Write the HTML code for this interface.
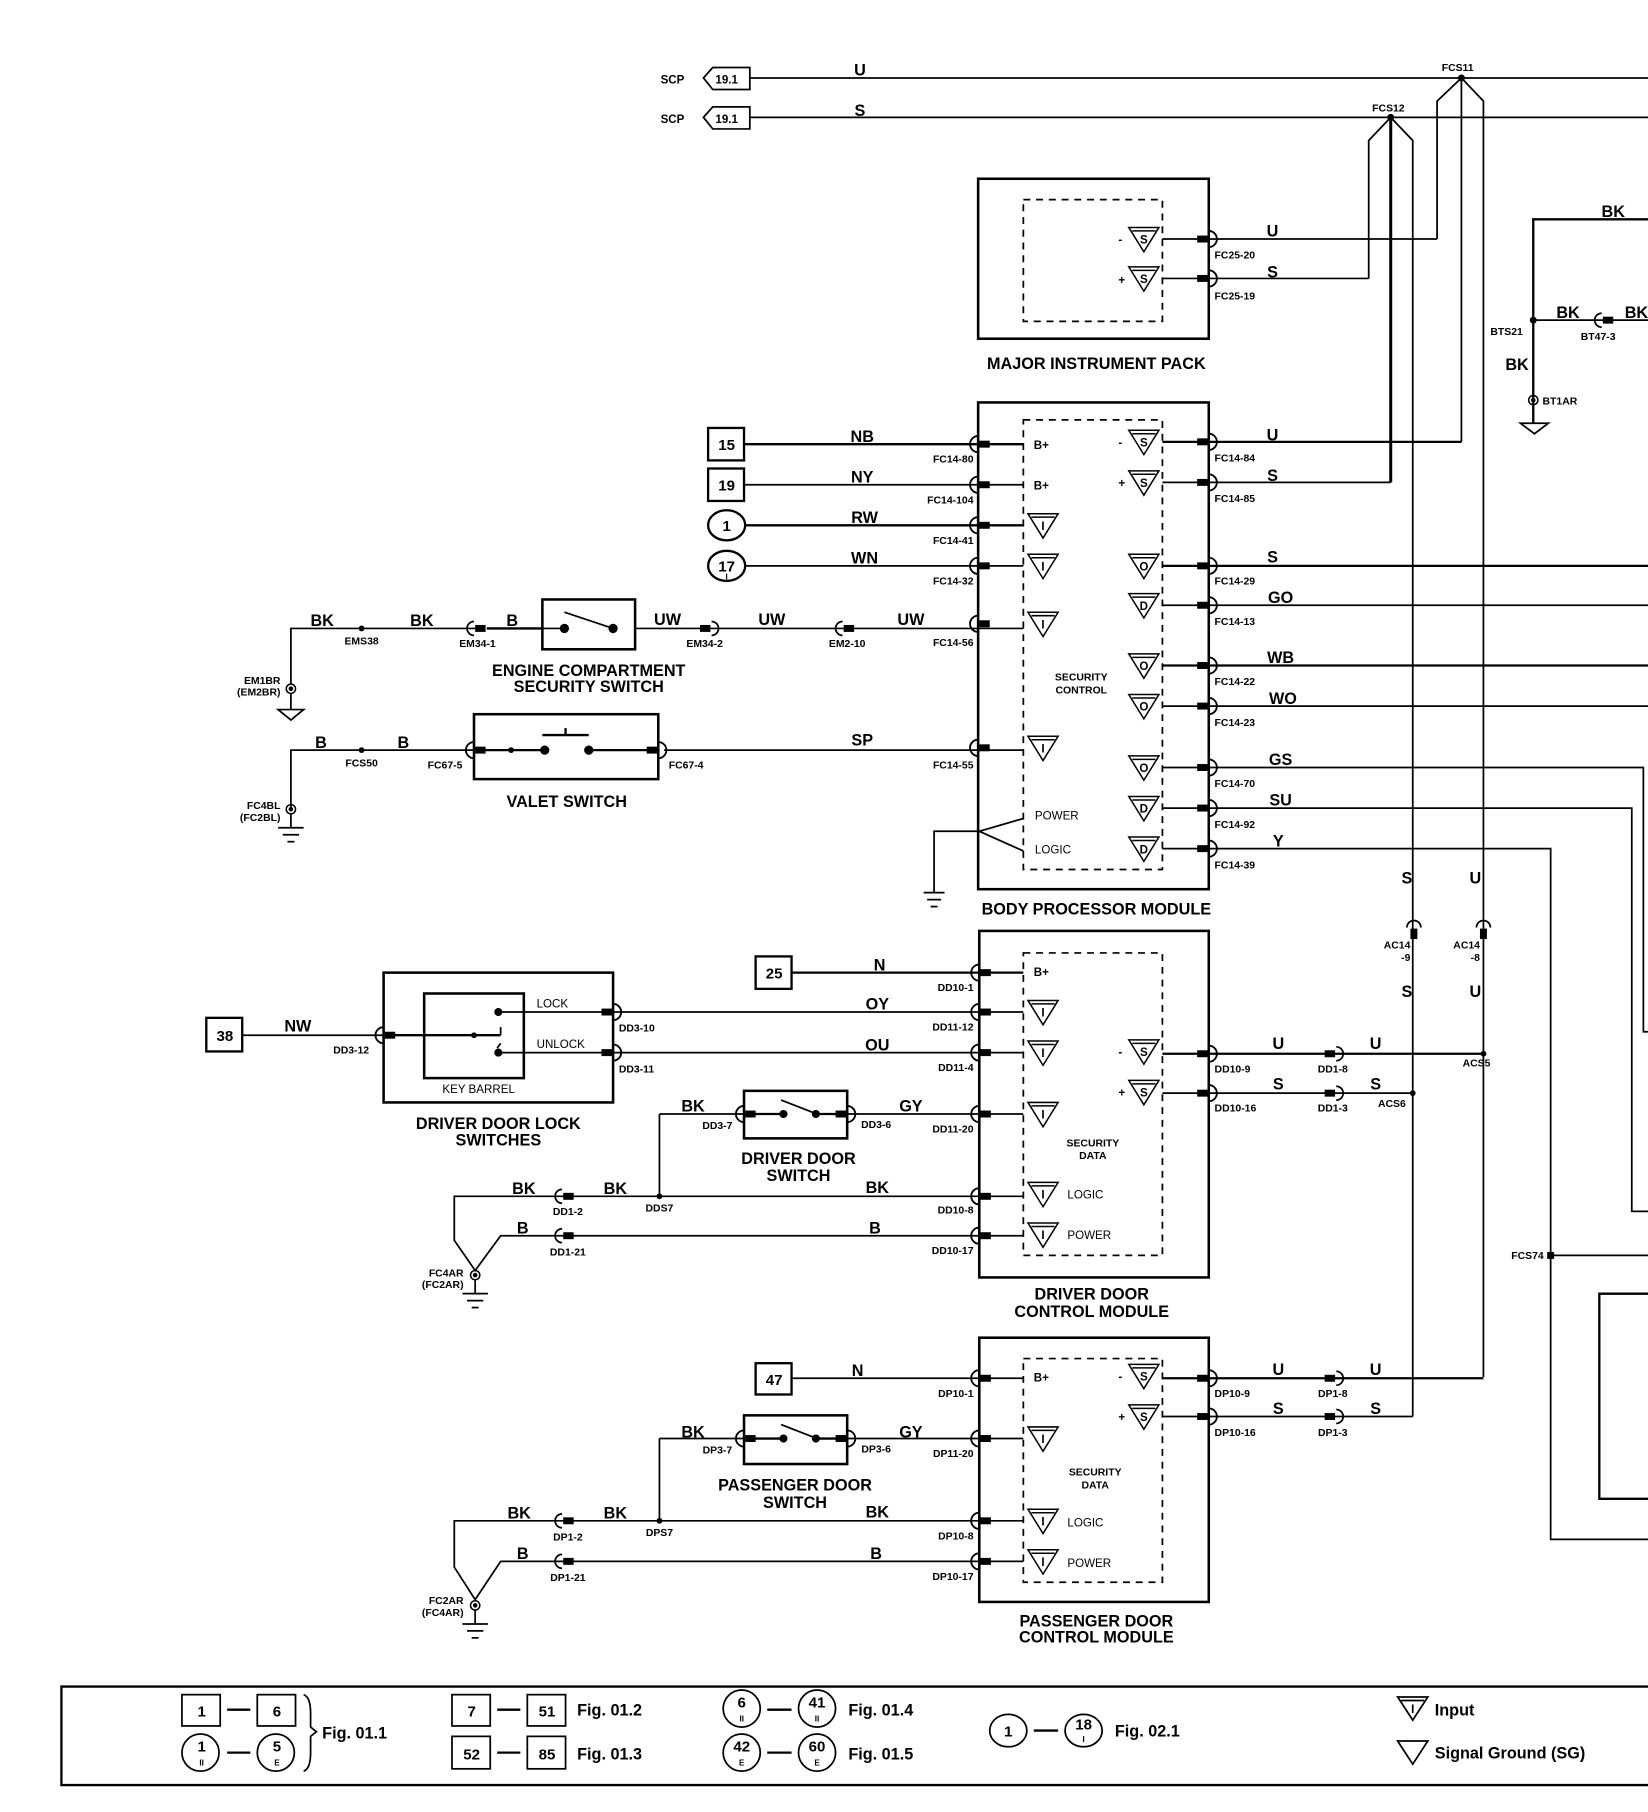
<!DOCTYPE html>
<html><head><meta charset="utf-8"><style>
html,body{margin:0;padding:0;background:#fff;}
svg{display:block;}
text{font-family:"Liberation Sans",Arial,sans-serif;font-weight:bold;fill:#000;}
.p{font-size:9px;}
.w{font-size:14px;font-weight:normal;}
.t{font-size:14px;text-anchor:middle;}
.s{font-size:10px;}
.c{text-anchor:middle;}
.r{text-anchor:end;}
</style></head><body>
<svg width="1648" height="1812" viewBox="0 0 1422 1563" xmlns="http://www.w3.org/2000/svg">
<defs>
<g id="cl"><path d="M0,-7 a7,7 0 0 0 0,14" fill="none" stroke="#000" stroke-width="1.6"/><rect x="1" y="-3" width="9" height="6" fill="#000"/></g>
<g id="cr"><path d="M0,-7 a7,7 0 0 1 0,14" fill="none" stroke="#000" stroke-width="1.6"/><rect x="-10" y="-3" width="9" height="6" fill="#000"/></g>
<g id="ci"><path d="M0,-6 a6,6 0 0 1 0,12" fill="none" stroke="#000" stroke-width="1.5"/><rect x="-10" y="-3" width="9" height="6" fill="#000"/></g>
<g id="cj"><path d="M0,-6 a6,6 0 0 0 0,12" fill="none" stroke="#000" stroke-width="1.5"/><rect x="1" y="-3" width="9" height="6" fill="#000"/></g>
<path id="tri" d="M-13,-10 L13,-10 L0,11 Z M-10,-7 L10,-7" fill="#fff" stroke="#000" stroke-width="1.3"/>
<g id="eg"><circle cx="0" cy="0" r="4" fill="none" stroke="#000" stroke-width="1.3"/><circle cx="0" cy="0" r="2" fill="#000"/><line x1="0" y1="4" x2="0" y2="16" stroke="#000" stroke-width="1.5"/><line x1="-11" y1="16" x2="11" y2="16" stroke="#000" stroke-width="1.5"/><line x1="-7" y1="22" x2="7" y2="22" stroke="#000" stroke-width="1.5"/><line x1="-3" y1="28" x2="3" y2="28" stroke="#000" stroke-width="1.5"/></g>
</defs>
<rect width="1422" height="1563" fill="#fff"/>
<g fill="none" stroke="#000" stroke-width="1.5">
<line x1="647" y1="67" x2="1422" y2="67"/>
<line x1="647" y1="101" x2="1422" y2="101"/>
<path d="M647,58 L615,58 L607,67 L615,77 L647,77 Z"/>
<path d="M647,92 L615,92 L607,101 L615,111 L647,111 Z"/>
<path d="M1240,206 L1240,87 L1261,67 L1280,87 L1280,1188"/>
<line x1="1261" y1="67" x2="1261" y2="381"/>
<path d="M1181,240 L1181,121 L1200,101 L1219,121 L1219,1222"/>
<line x1="1200" y1="101" x2="1200" y2="416" stroke-width="2.6"/>
<rect x="844" y="154" width="199" height="138" stroke-width="2.2"/>
<rect x="883" y="172" width="120" height="105" stroke-dasharray="6,5"/>
<line x1="1003" y1="206" x2="1240" y2="206"/>
<line x1="1003" y1="240" x2="1181" y2="240"/>
<path d="M1422,189 L1323,189 L1323,365" stroke-width="2"/>
<line x1="1323" y1="276" x2="1422" y2="276"/>
<path d="M1312,365 L1336,365 L1324,374 Z"/>
<rect x="844" y="347" width="199" height="420" stroke-width="2.2"/>
<rect x="883" y="362" width="120" height="388" stroke-dasharray="6,5"/>
<line x1="642" y1="383" x2="883" y2="383" stroke-width="2"/>
<line x1="642" y1="418" x2="883" y2="418"/>
<line x1="643" y1="453" x2="883" y2="453" stroke-width="2"/>
<line x1="643" y1="488" x2="883" y2="488"/>
<line x1="1003" y1="381" x2="1261" y2="381" stroke-width="2"/>
<line x1="1003" y1="416" x2="1200" y2="416"/>
<line x1="1003" y1="488" x2="1422" y2="488" stroke-width="2"/>
<line x1="1003" y1="522" x2="1422" y2="522"/>
<line x1="1003" y1="574" x2="1422" y2="574" stroke-width="2"/>
<line x1="1003" y1="609" x2="1422" y2="609"/>
<path d="M1003,662 L1418,662 L1418,890 L1422,890"/>
<path d="M1003,697 L1408,697 L1408,1045 L1422,1045"/>
<path d="M1003,732 L1338,732 L1338,1328 L1422,1328"/>
<line x1="1338" y1="1083" x2="1422" y2="1083"/>
<path d="M1422,1116 L1380,1116 L1380,1293 L1422,1293" stroke-width="2"/>
<path d="M883,706 L845,717 L883,734"/>
<path d="M845,717 L806,717 L806,770"/>
<line x1="797" y1="770" x2="815" y2="770"/><line x1="800" y1="776" x2="812" y2="776"/><line x1="803" y1="782" x2="809" y2="782"/>
<path d="M251,590 L251,542 L410,542" />
<line x1="420" y1="542" x2="468" y2="542" stroke-width="2"/>
<rect x="468" y="517" width="80" height="43" stroke-width="2.2"/>
<line x1="548" y1="542" x2="883" y2="542"/>
<line x1="486" y1="542" x2="468" y2="542"/>
<line x1="487" y1="528" x2="529" y2="542"/>
<path d="M251,700 L251,647 L409,647"/>
<rect x="409" y="616" width="159" height="56" stroke-width="2.2"/>
<line x1="415" y1="647" x2="470" y2="647" stroke-width="2"/>
<line x1="508" y1="647" x2="562" y2="647" stroke-width="2"/>
<line x1="573" y1="647" x2="883" y2="647"/>
<line x1="468" y1="634" x2="508" y2="634" stroke-width="2"/>
<line x1="488" y1="628" x2="488" y2="634" stroke-width="2"/>
<rect x="331" y="839" width="198" height="112" stroke-width="2.2"/>
<rect x="366" y="857" width="86" height="73" stroke-width="2.2"/>
<rect x="178" y="878" width="31" height="29" stroke-width="2"/>
<line x1="209" y1="893" x2="330" y2="893"/>
<line x1="334" y1="893" x2="432" y2="893" stroke-width="2"/>
<line x1="432" y1="873" x2="883" y2="873"/>
<line x1="432" y1="908" x2="883" y2="908"/>
<line x1="432" y1="886" x2="432" y2="893"/>
<line x1="432" y1="900" x2="429" y2="904"/>
<rect x="845" y="803" width="198" height="299" stroke-width="2.2"/>
<rect x="883" y="822" width="120" height="261" stroke-dasharray="6,5"/>
<rect x="652" y="825" width="31" height="28" stroke-width="2"/>
<line x1="683" y1="839" x2="883" y2="839" stroke-width="2"/>
<line x1="1003" y1="909" x2="1280" y2="909" stroke-width="2"/>
<line x1="1003" y1="943" x2="1219" y2="943"/>
<rect x="642" y="941" width="89" height="41" stroke-width="2.2"/>
<line x1="569" y1="961" x2="642" y2="961"/>
<line x1="731" y1="961" x2="883" y2="961"/>
<line x1="648" y1="961" x2="676" y2="961" stroke-width="2"/>
<line x1="704" y1="961" x2="727" y2="961" stroke-width="2"/>
<line x1="674" y1="949" x2="705" y2="961"/>
<line x1="569" y1="961" x2="569" y2="1032"/>
<path d="M883,1032 L392,1032 L392,1070 L410,1096 L432,1066 L883,1066"/>
<rect x="845" y="1154" width="198" height="228" stroke-width="2.2"/>
<rect x="883" y="1172" width="120" height="193" stroke-dasharray="6,5"/>
<rect x="652" y="1176" width="31" height="27" stroke-width="2"/>
<line x1="683" y1="1189" x2="883" y2="1189"/>
<line x1="1003" y1="1189" x2="1280" y2="1189" stroke-width="2"/>
<line x1="1003" y1="1222" x2="1219" y2="1222"/>
<rect x="642" y="1221" width="89" height="42" stroke-width="2.2"/>
<line x1="569" y1="1241" x2="642" y2="1241"/>
<line x1="731" y1="1241" x2="883" y2="1241"/>
<line x1="648" y1="1241" x2="676" y2="1241" stroke-width="2"/>
<line x1="704" y1="1241" x2="727" y2="1241" stroke-width="2"/>
<line x1="674" y1="1229" x2="705" y2="1241"/>
<line x1="569" y1="1241" x2="569" y2="1312"/>
<path d="M883,1312 L392,1312 L392,1352 L410,1380 L432,1347 L883,1347"/>
<rect x="611" y="369" width="31" height="28" stroke-width="2"/>
<rect x="611" y="404" width="31" height="28" stroke-width="2"/>
<ellipse cx="627" cy="453" rx="16" ry="13" stroke-width="2"/>
<ellipse cx="627" cy="488" rx="16" ry="13" stroke-width="2"/>
<path d="M1422,1455 L53,1455 L53,1540 L1422,1540" stroke-width="2"/>
<rect x="157" y="1462" width="33" height="27"/><rect x="222" y="1462" width="33" height="27"/>
<ellipse cx="173" cy="1512" rx="16" ry="16"/><ellipse cx="238" cy="1512" rx="16" ry="16"/>
<path d="M262,1462 Q268,1464 268,1478 L268,1490 L273,1494 L268,1498 L268,1512 Q268,1526 262,1528"/>
<rect x="390" y="1462" width="33" height="27"/><rect x="455" y="1462" width="33" height="27"/>
<rect x="390" y="1498" width="33" height="28"/><rect x="455" y="1498" width="33" height="28"/>
<ellipse cx="640" cy="1474" rx="16" ry="16"/><ellipse cx="705" cy="1474" rx="16" ry="16"/>
<ellipse cx="640" cy="1512" rx="16" ry="16"/><ellipse cx="705" cy="1512" rx="16" ry="16"/>
<ellipse cx="870" cy="1493" rx="16" ry="14"/><ellipse cx="935" cy="1493" rx="16" ry="14"/>
<line x1="196" y1="1475" x2="216" y2="1475" stroke-width="2"/><line x1="196" y1="1512" x2="216" y2="1512" stroke-width="2"/>
<line x1="429" y1="1475" x2="449" y2="1475" stroke-width="2"/><line x1="429" y1="1512" x2="449" y2="1512" stroke-width="2"/>
<line x1="662" y1="1475" x2="683" y2="1475" stroke-width="2"/><line x1="662" y1="1512" x2="683" y2="1512" stroke-width="2"/>
<line x1="892" y1="1493" x2="913" y2="1493" stroke-width="2"/>
<path d="M1206,1464 L1232,1464 L1219,1484 Z M1209,1467 L1229,1467"/>
<path d="M1206,1502 L1232,1502 L1219,1522 Z"/>
</g>
<g fill="#000">
<circle cx="1261" cy="67" r="3"/><circle cx="1200" cy="101" r="3"/>
<circle cx="1323" cy="276" r="3"/><circle cx="312" cy="542" r="2.5"/><circle cx="312" cy="647" r="2.5"/>
<circle cx="487" cy="542" r="4"/><circle cx="529" cy="542" r="4"/>
<circle cx="441" cy="647" r="2.5"/><circle cx="470" cy="647" r="4"/><circle cx="508" cy="647" r="4"/>
<circle cx="409" cy="893" r="2.5"/><circle cx="430" cy="873" r="3.5"/><circle cx="430" cy="908" r="3.5"/>
<circle cx="676" cy="961" r="3.5"/><circle cx="704" cy="961" r="3.5"/><circle cx="569" cy="1032" r="2.5"/>
<circle cx="676" cy="1241" r="3.5"/><circle cx="704" cy="1241" r="3.5"/><circle cx="569" cy="1312" r="2.5"/>
<circle cx="1280" cy="909" r="2.5"/><circle cx="1219" cy="943" r="2.5"/>
<rect x="1335" y="1080" width="6" height="6"/>
</g>
<use href="#cr" x="1043" y="206"/><use href="#cr" x="1043" y="240"/>
<use href="#cl" x="844" y="383"/><use href="#cl" x="844" y="418"/><use href="#cl" x="844" y="453"/><use href="#cl" x="844" y="488"/><use href="#cl" x="844" y="538"/><use href="#cl" x="844" y="645"/>
<use href="#cr" x="1043" y="381"/><use href="#cr" x="1043" y="416"/><use href="#cr" x="1043" y="488"/><use href="#cr" x="1043" y="522"/><use href="#cr" x="1043" y="574"/><use href="#cr" x="1043" y="609"/><use href="#cr" x="1043" y="662"/><use href="#cr" x="1043" y="697"/><use href="#cr" x="1043" y="732"/>
<use href="#cj" x="409" y="542"/><use href="#ci" x="614" y="542"/><use href="#cj" x="727" y="542"/>
<use href="#cj" x="1382" y="276"/>
<use href="#cl" x="409" y="647"/><use href="#cr" x="568" y="647"/>
<use href="#cl" x="331" y="893"/><use href="#cr" x="529" y="873"/><use href="#cr" x="529" y="908"/>
<use href="#cl" x="845" y="839"/><use href="#cl" x="845" y="873"/><use href="#cl" x="845" y="908"/><use href="#cl" x="845" y="961"/><use href="#cl" x="845" y="1032"/><use href="#cl" x="845" y="1066"/>
<use href="#cr" x="1043" y="909"/><use href="#cr" x="1043" y="943"/><use href="#ci" x="1153" y="909"/><use href="#ci" x="1153" y="943"/>
<use href="#cl" x="642" y="961"/><use href="#cr" x="731" y="961"/><use href="#cj" x="485" y="1032"/><use href="#cj" x="485" y="1066"/>
<use href="#cl" x="845" y="1189"/><use href="#cl" x="845" y="1241"/><use href="#cl" x="845" y="1312"/><use href="#cl" x="845" y="1347"/>
<use href="#cr" x="1043" y="1189"/><use href="#cr" x="1043" y="1222"/><use href="#ci" x="1153" y="1189"/><use href="#ci" x="1153" y="1222"/>
<use href="#cl" x="642" y="1241"/><use href="#cr" x="731" y="1241"/><use href="#cj" x="485" y="1312"/><use href="#cj" x="485" y="1347"/>
<g transform="rotate(-90 1220 800)"><use href="#ci" x="1220" y="800"/></g>
<g transform="rotate(-90 1280 800)"><use href="#ci" x="1280" y="800"/></g>
<use href="#eg" x="251" y="698"/><use href="#eg" x="410" y="1100"/><use href="#eg" x="410" y="1385"/>
<g><circle cx="251" cy="594" r="4" fill="none" stroke="#000" stroke-width="1.3"/><circle cx="251" cy="594" r="2"/><path d="M251,598 L251,612 M240,612 L262,612 L251,621 Z" fill="none" stroke="#000" stroke-width="1.5"/></g>
<g><circle cx="1323" cy="345" r="4" fill="none" stroke="#000" stroke-width="1.3"/><circle cx="1323" cy="345" r="2"/></g>
<use href="#tri" x="987" y="206"/><use href="#tri" x="987" y="240"/>
<use href="#tri" x="987" y="381"/><use href="#tri" x="987" y="416"/><use href="#tri" x="900" y="453"/><use href="#tri" x="900" y="488"/><use href="#tri" x="900" y="538"/><use href="#tri" x="900" y="645"/>
<use href="#tri" x="987" y="488"/><use href="#tri" x="987" y="522"/><use href="#tri" x="987" y="574"/><use href="#tri" x="987" y="609"/><use href="#tri" x="987" y="662"/><use href="#tri" x="987" y="697"/><use href="#tri" x="987" y="732"/>
<use href="#tri" x="900" y="873"/><use href="#tri" x="900" y="908"/><use href="#tri" x="900" y="961"/><use href="#tri" x="900" y="1030"/><use href="#tri" x="900" y="1065"/><use href="#tri" x="987" y="907"/><use href="#tri" x="987" y="942"/>
<use href="#tri" x="900" y="1241"/><use href="#tri" x="900" y="1312"/><use href="#tri" x="900" y="1347"/><use href="#tri" x="987" y="1187"/><use href="#tri" x="987" y="1222"/>
<g class="s c">
<text x="987" y="210">S</text><text x="987" y="244">S</text>
<text x="987" y="385">S</text><text x="987" y="420">S</text>
<text x="900" y="457">I</text><text x="900" y="492">I</text><text x="900" y="542">I</text><text x="900" y="649">I</text>
<text x="987" y="492">O</text><text x="987" y="526">D</text><text x="987" y="578">O</text><text x="987" y="613">O</text><text x="987" y="666">O</text><text x="987" y="701">D</text><text x="987" y="736">D</text>
<text x="900" y="877">I</text><text x="900" y="912">I</text><text x="900" y="965">I</text><text x="900" y="1034">I</text><text x="900" y="1069">I</text><text x="987" y="911">S</text><text x="987" y="946">S</text>
<text x="900" y="1245">I</text><text x="900" y="1316">I</text><text x="900" y="1351">I</text><text x="987" y="1191">S</text><text x="987" y="1226">S</text>
<text x="1219" y="1478">I</text>
</g>
<g class="s">
<text x="965" y="210">-</text><text x="965" y="245">+</text><text x="965" y="385">-</text><text x="965" y="420">+</text>
<text x="965" y="911">-</text><text x="965" y="946">+</text><text x="965" y="1191">-</text><text x="965" y="1226">+</text>
<text x="892" y="387">B+</text><text x="892" y="422">B+</text><text x="892" y="842">B+</text><text x="892" y="1192">B+</text>
<text x="893" y="707" style="font-weight:normal">POWER</text><text x="893" y="736" style="font-weight:normal">LOGIC</text>
<text x="921" y="1034" style="font-weight:normal">LOGIC</text><text x="921" y="1069" style="font-weight:normal">POWER</text>
<text x="921" y="1317" style="font-weight:normal">LOGIC</text><text x="921" y="1352" style="font-weight:normal">POWER</text>
<text x="463" y="869" style="font-weight:normal">LOCK</text><text x="463" y="904" style="font-weight:normal">UNLOCK</text>
<text x="413" y="943" class="c" style="font-weight:normal">KEY BARREL</text>
<text x="570" y="72">SCP</text><text x="570" y="106">SCP</text>
<text x="627" y="72" class="c">19.1</text><text x="627" y="106" class="c">19.1</text>
</g>
<g class="p c">
<text x="933" y="587">SECURITY</text><text x="933" y="598">CONTROL</text>
<text x="943" y="989">SECURITY</text><text x="943" y="1000">DATA</text>
<text x="945" y="1273">SECURITY</text><text x="945" y="1284">DATA</text>
</g>
<g class="p">
<text x="1244" y="61">FCS11</text><text x="1184" y="96">FCS12</text>
<text x="1048" y="223">FC25-20</text><text x="1048" y="258">FC25-19</text>
<text x="1286" y="289">BTS21</text><text x="1364" y="293">BT47-3</text><text x="1331" y="349">BT1AR</text>
<text x="840" y="399" class="r">FC14-80</text><text x="840" y="434" class="r">FC14-104</text><text x="840" y="469" class="r">FC14-41</text><text x="840" y="504" class="r">FC14-32</text><text x="840" y="557" class="r">FC14-56</text><text x="840" y="663" class="r">FC14-55</text>
<text x="1048" y="398">FC14-84</text><text x="1048" y="433">FC14-85</text><text x="1048" y="504">FC14-29</text><text x="1048" y="539">FC14-13</text><text x="1048" y="591">FC14-22</text><text x="1048" y="626">FC14-23</text><text x="1048" y="679">FC14-70</text><text x="1048" y="714">FC14-92</text><text x="1048" y="749">FC14-39</text>
<text x="312" y="556" class="c">EMS38</text><text x="412" y="558" class="c">EM34-1</text><text x="608" y="558" class="c">EM34-2</text><text x="731" y="558" class="c">EM2-10</text>
<text x="242" y="590" class="r">EM1BR</text><text x="242" y="600" class="r">(EM2BR)</text>
<text x="312" y="661" class="c">FCS50</text><text x="384" y="663" class="c">FC67-5</text><text x="592" y="663" class="c">FC67-4</text>
<text x="242" y="698" class="r">FC4BL</text><text x="242" y="708" class="r">(FC2BL)</text>
<text x="303" y="909" class="c">DD3-12</text><text x="534" y="890">DD3-10</text><text x="534" y="925">DD3-11</text>
<text x="840" y="855" class="r">DD10-1</text><text x="840" y="889" class="r">DD11-12</text><text x="840" y="924" class="r">DD11-4</text><text x="840" y="977" class="r">DD11-20</text><text x="840" y="1047" class="r">DD10-8</text><text x="840" y="1082" class="r">DD10-17</text>
<text x="1048" y="925">DD10-9</text><text x="1048" y="959">DD10-16</text><text x="1150" y="925" class="c">DD1-8</text><text x="1150" y="959" class="c">DD1-3</text>
<text x="1262" y="920">ACS5</text><text x="1189" y="955">ACS6</text>
<text x="1217" y="818" class="r">AC14</text><text x="1217" y="829" class="r">-9</text><text x="1277" y="818" class="r">AC14</text><text x="1277" y="829" class="r">-8</text>
<text x="619" y="974" class="c">DD3-7</text><text x="756" y="973" class="c">DD3-6</text><text x="569" y="1045" class="c">DDS7</text><text x="490" y="1048" class="c">DD1-2</text><text x="490" y="1083" class="c">DD1-21</text>
<text x="400" y="1101" class="r">FC4AR</text><text x="400" y="1111" class="r">(FC2AR)</text>
<text x="1332" y="1086" class="r">FCS74</text>
<text x="840" y="1205" class="r">DP10-1</text><text x="840" y="1257" class="r">DP11-20</text><text x="840" y="1328" class="r">DP10-8</text><text x="840" y="1363" class="r">DP10-17</text>
<text x="1048" y="1205">DP10-9</text><text x="1048" y="1239">DP10-16</text><text x="1150" y="1205" class="c">DP1-8</text><text x="1150" y="1239" class="c">DP1-3</text>
<text x="619" y="1254" class="c">DP3-7</text><text x="756" y="1253" class="c">DP3-6</text><text x="569" y="1325" class="c">DPS7</text><text x="490" y="1329" class="c">DP1-2</text><text x="490" y="1364" class="c">DP1-21</text>
<text x="400" y="1384" class="r">FC2AR</text><text x="400" y="1394" class="r">(FC4AR)</text>
</g>
<g class="w c">
<text x="742" y="65">U</text><text x="742" y="100">S</text>
<text x="1098" y="204">U</text><text x="1098" y="239">S</text>
<text x="1392" y="187">BK</text><text x="1353" y="274">BK</text><text x="1412" y="274">BK</text><text x="1309" y="319">BK</text>
<text x="744" y="381">NB</text><text x="744" y="416">NY</text><text x="746" y="451">RW</text><text x="746" y="486">WN</text>
<text x="1098" y="380">U</text><text x="1098" y="415">S</text><text x="1098" y="485">S</text><text x="1105" y="520">GO</text><text x="1105" y="572">WB</text><text x="1107" y="607">WO</text><text x="1105" y="660">GS</text><text x="1105" y="695">SU</text><text x="1103" y="730">Y</text>
<text x="278" y="540">BK</text><text x="364" y="540">BK</text><text x="442" y="540">B</text><text x="576" y="539">UW</text><text x="666" y="539">UW</text><text x="786" y="539">UW</text>
<text x="277" y="645">B</text><text x="348" y="645">B</text><text x="744" y="643">SP</text>
<text x="257" y="890">NW</text><text x="757" y="871">OY</text><text x="757" y="906">OU</text><text x="759" y="837">N</text>
<text x="1103" y="905">U</text><text x="1187" y="905">U</text><text x="1103" y="940">S</text><text x="1187" y="940">S</text>
<text x="1214" y="762">S</text><text x="1273" y="762">U</text><text x="1214" y="860">S</text><text x="1273" y="860">U</text>
<text x="598" y="959">BK</text><text x="786" y="959">GY</text><text x="452" y="1030">BK</text><text x="531" y="1030">BK</text><text x="757" y="1029">BK</text><text x="451" y="1064">B</text><text x="755" y="1064">B</text>
<text x="740" y="1187">N</text><text x="1103" y="1186">U</text><text x="1187" y="1186">U</text><text x="1103" y="1220">S</text><text x="1187" y="1220">S</text>
<text x="598" y="1240">BK</text><text x="786" y="1240">GY</text><text x="448" y="1310">BK</text><text x="531" y="1310">BK</text><text x="757" y="1309">BK</text><text x="451" y="1345">B</text><text x="756" y="1345">B</text>
</g>
<g style="font-size:13px" class="c">
<text x="627" y="388">15</text><text x="627" y="423">19</text><text x="627" y="458">1</text><text x="627" y="493">17</text>
<text x="194" y="898">38</text><text x="668" y="844">25</text><text x="668" y="1195">47</text>
<text x="174" y="1481">1</text><text x="239" y="1481">6</text><text x="174" y="1511">1</text><text x="239" y="1511">5</text>
<text x="407" y="1481">7</text><text x="472" y="1481">51</text><text x="407" y="1518">52</text><text x="472" y="1518">85</text>
<text x="640" y="1473">6</text><text x="705" y="1473">41</text><text x="640" y="1511">42</text><text x="705" y="1511">60</text>
<text x="870" y="1498">1</text><text x="935" y="1492">18</text>
</g>
<g style="font-size:7px" class="c">
<text x="627" y="500">I</text><text x="174" y="1523">II</text><text x="239" y="1523">E</text><text x="640" y="1485">II</text><text x="705" y="1485">II</text><text x="640" y="1523">E</text><text x="705" y="1523">E</text><text x="935" y="1503">I</text>
</g>
<g style="font-size:14px;font-weight:normal">
<text x="278" y="1500">Fig. 01.1</text><text x="498" y="1480">Fig. 01.2</text><text x="498" y="1518">Fig. 01.3</text><text x="732" y="1480">Fig. 01.4</text><text x="732" y="1518">Fig. 01.5</text><text x="962" y="1498">Fig. 02.1</text>
<text x="1238" y="1480">Input</text><text x="1238" y="1517">Signal Ground (SG)</text>
</g>
<g class="t">
<text x="946" y="318">MAJOR INSTRUMENT PACK</text>
<text x="508" y="583">ENGINE COMPARTMENT</text><text x="508" y="597">SECURITY SWITCH</text>
<text x="489" y="696">VALET SWITCH</text>
<text x="946" y="789">BODY PROCESSOR MODULE</text>
<text x="430" y="974">DRIVER DOOR LOCK</text><text x="430" y="988">SWITCHES</text>
<text x="689" y="1004">DRIVER DOOR</text><text x="689" y="1019">SWITCH</text>
<text x="942" y="1121">DRIVER DOOR</text><text x="942" y="1136">CONTROL MODULE</text>
<text x="686" y="1286">PASSENGER DOOR</text><text x="686" y="1301">SWITCH</text>
<text x="946" y="1403">PASSENGER DOOR</text><text x="946" y="1417">CONTROL MODULE</text>
</g>
</svg>
</body></html>
